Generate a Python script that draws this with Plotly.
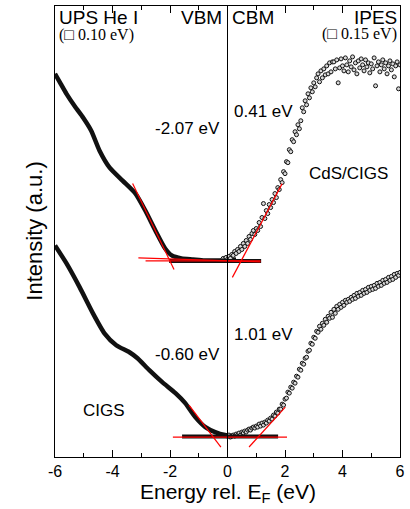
import plotly.graph_objects as go

# ---------------- data (energy in eV, intensity in arbitrary units) ----------------
# UPS He I, CdS/CIGS (upper curve)
ups_top_x = [-6.0, -5.8, -5.6, -5.3, -5.02, -4.74, -4.45, -4.1, -3.65, -3.2, -2.86,
             -2.51, -2.17, -1.94, -1.6, -1.2, -0.8, -0.4, 0.0, 0.3]
ups_top_y = [384, 374, 364, 351, 340, 327, 307, 290, 277, 264, 247,
             227, 209, 202, 199, 198, 197, 197, 197, 198]

# UPS He I, CIGS (lower curve)
ups_bot_x = [-6.0, -5.6, -5.14, -4.68, -4.28, -3.87, -3.41, -3.13, -2.72, -2.27,
             -1.81, -1.47, -1.12, -0.77, -0.43, -0.09, 0.2]
ups_bot_y = [212, 194, 170, 144, 124, 112, 105, 99, 87, 75,
             64, 54, 40, 30, 25, 22, 21]

# IPES energy grid (eV)
ipes_top_x = [-0.20, -0.15, -0.10, -0.05, 0.00, 0.05, 0.10, 0.15, 0.20, 0.25, 0.30, 0.35,
              0.40, 0.45, 0.50, 0.55, 0.60, 0.65, 0.70, 0.75, 0.80, 0.85, 0.90, 0.95,
              1.00, 1.05, 1.10, 1.15, 1.20, 1.25, 1.30, 1.35, 1.40, 1.45, 1.50, 1.55,
              1.60, 1.65, 1.70, 1.75, 1.80, 1.85, 1.90, 1.95, 2.00, 2.05, 2.10, 2.15,
              2.20, 2.25, 2.30, 2.35, 2.40, 2.45, 2.50, 2.55, 2.60, 2.65, 2.70, 2.75,
              2.80, 2.85, 2.90, 2.95, 3.00, 3.05, 3.10, 3.15, 3.20, 3.25, 3.30, 3.35,
              3.40, 3.45, 3.50, 3.55, 3.60, 3.65, 3.70, 3.75, 3.80, 3.85, 3.90, 3.95,
              4.00, 4.05, 4.10, 4.15, 4.20, 4.25, 4.30, 4.35, 4.40, 4.45, 4.50, 4.55,
              4.60, 4.65, 4.70, 4.75, 4.80, 4.85, 4.90, 4.95, 5.00, 5.05, 5.10, 5.15,
              5.20, 5.25, 5.30, 5.35, 5.40, 5.45, 5.50, 5.55, 5.60, 5.65, 5.70, 5.75,
              5.80, 5.85, 5.90, 5.95, 6.00]
ipes_top_y = [197, 199, 198, 200, 198, 201, 199, 203, 202, 206, 204, 208,
              206, 211, 208, 214, 211, 217, 214, 221, 218, 224, 227, 223,
              229, 227, 235, 231, 240, 254, 239, 247, 244, 253, 250, 258,
              255, 264, 260, 270, 268, 278, 275, 286, 284, 296, 295, 308,
              306, 318, 316, 326, 323, 333, 329, 337, 350, 346, 357, 353,
              364, 360, 370, 366, 375, 371, 380, 384, 376, 387, 380, 389,
              383, 392, 384, 395, 386, 396, 396, 389, 398, 375, 390, 399,
              392, 387, 400, 393, 386, 397, 391, 401, 388, 395, 384, 397,
              390, 399, 393, 387, 398, 391, 395, 385, 394, 389, 400, 372,
              392, 396, 386, 393, 398, 389, 395, 384, 392, 397, 388, 394,
              381, 392, 396, 369, 393]

ipes_bot_x = [0.00, 0.05, 0.10, 0.15, 0.20, 0.25, 0.30, 0.35, 0.40, 0.45, 0.50, 0.55,
              0.60, 0.65, 0.70, 0.75, 0.80, 0.85, 0.90, 0.95, 1.00, 1.05, 1.10, 1.15,
              1.20, 1.25, 1.30, 1.35, 1.40, 1.45, 1.50, 1.55, 1.60, 1.65, 1.70, 1.75,
              1.80, 1.85, 1.90, 1.95, 2.00, 2.05, 2.10, 2.15, 2.20, 2.25, 2.30, 2.35,
              2.40, 2.45, 2.50, 2.55, 2.60, 2.65, 2.70, 2.75, 2.80, 2.85, 2.90, 2.95,
              3.00, 3.05, 3.10, 3.15, 3.20, 3.25, 3.30, 3.35, 3.40, 3.45, 3.50, 3.55,
              3.60, 3.65, 3.70, 3.75, 3.80, 3.85, 3.90, 3.95, 4.00, 4.05, 4.10, 4.15,
              4.20, 4.25, 4.30, 4.35, 4.40, 4.45, 4.50, 4.55, 4.60, 4.65, 4.70, 4.75,
              4.80, 4.85, 4.90, 4.95, 5.00, 5.05, 5.10, 5.15, 5.20, 5.25, 5.30, 5.35,
              5.40, 5.45, 5.50, 5.55, 5.60, 5.65, 5.70, 5.75, 5.80, 5.85, 5.90, 5.95,
              6.00]
ipes_bot_y = [21, 22, 20, 21, 22, 21, 23, 22, 24, 22, 25, 24,
              26, 25, 27, 28, 27, 29, 30, 29, 31, 30, 33, 31,
              34, 32, 35, 34, 37, 36, 39, 38, 42, 41, 45, 44,
              48, 48, 53, 52, 58, 59, 65, 64, 70, 69, 75, 74,
              81, 80, 88, 87, 94, 93, 99, 100, 106, 107, 114, 113,
              120, 119, 126, 125, 131, 128, 134, 132, 138, 135, 141, 139,
              145, 140, 148, 144, 151, 148, 153, 150, 155, 152, 157, 155,
              158, 156, 160, 158, 162, 159, 164, 161, 165, 162, 167, 164,
              168, 165, 170, 167, 171, 168, 172, 169, 174, 171, 175, 172,
              177, 174, 178, 175, 180, 177, 181, 178, 183, 180, 184, 182,
              185]

# thick black background segments
base_top_x = [-2.03, 1.17]
base_top_y = [196.5, 196.5]
base_bot_x = [-1.58, 1.76]
base_bot_y = [20.5, 20.5]

# red linear-extrapolation lines
fit_lines = [
    ([-3.3, -1.86], [274, 188]),      # VBM edge CdS/CIGS
    ([-3.1, 1.15], [199.5, 195.5]),   # background CdS/CIGS
    ([-2.85, 1.15], [196.5, 196.5]),
    ([0.17, 1.9], [180, 274]),        # CBM edge CdS/CIGS
    ([-1.34, -0.23], [52, 10]),       # VBM edge CIGS
    ([-1.9, 2.07], [20, 20]),         # background CIGS
    ([0.75, 2.01], [10, 50]),         # CBM edge CIGS
]

x_ticks = [-6, -4, -2, 0, 2, 4, 6]
x_ticklabels = ["-6", "-4", "-2", "0", "2", "4", "6"]

SANS = "Liberation Sans, Arial, sans-serif"
SERIF = "Liberation Serif, Times New Roman, serif"

fig = go.Figure()

marker_style = dict(symbol="circle", size=4, color="#d8d8d8",
                    line=dict(color="#111111", width=1))

for xs, ys in [(ups_top_x, ups_top_y), (ups_bot_x, ups_bot_y)]:
    fig.add_trace(go.Scatter(x=xs, y=ys, mode="lines",
                             line=dict(color="#111111", width=4.5, shape="spline", smoothing=0.6),
                             showlegend=False, hoverinfo="skip"))

for xs, ys in [(ipes_top_x, ipes_top_y), (ipes_bot_x, ipes_bot_y)]:
    fig.add_trace(go.Scatter(x=xs, y=ys, mode="markers", marker=marker_style,
                             showlegend=False, hoverinfo="skip"))

for xs, ys in [(base_top_x, base_top_y), (base_bot_x, base_bot_y)]:
    fig.add_trace(go.Scatter(x=xs, y=ys, mode="lines",
                             line=dict(color="#111111", width=4),
                             showlegend=False, hoverinfo="skip"))

for xs, ys in fit_lines:
    fig.add_trace(go.Scatter(x=xs, y=ys, mode="lines",
                             line=dict(color="#ff0000", width=1.2),
                             showlegend=False, hoverinfo="skip"))

# vertical line at E_F
fig.add_shape(type="line", xref="x", yref="paper", x0=0, x1=0, y0=0, y1=1,
              line=dict(color="black", width=1))

def ann(text, x, y, xanchor, size, yref="y", font=SANS, xref="x", angle=0):
    fig.add_annotation(text=text, x=x, y=y, xref=xref, yref=yref, xanchor=xanchor,
                       yanchor="middle", showarrow=False, textangle=angle,
                       font=dict(family=font, size=size, color="black"))

def py2paper(py):
    return (457 - py) / 452

ann("UPS He I", -5.92, py2paper(17), "left", 19, yref="paper")
ann("(\u25a1 0.10 eV)", -5.92, py2paper(34), "left", 16, yref="paper", font=SERIF)
ann("VBM", -0.12, py2paper(17), "right", 19, yref="paper")
ann("CBM", 0.08, py2paper(17), "left", 19, yref="paper")
ann("IPES", 5.96, py2paper(17), "right", 19, yref="paper")
ann("(\u25a1 0.15 eV)", 5.96, py2paper(33), "right", 16, yref="paper", font=SERIF)

ann("-2.07 eV", -0.2, 329, "right", 17)
ann("0.41 eV", 0.15, 346, "left", 17)
ann("CdS/CIGS", 2.78, 284, "left", 17)
ann("-0.60 eV", -0.2, 103, "right", 17)
ann("1.01 eV", 0.15, 123, "left", 17)
ann("CIGS", -5.1, 47, "left", 17)

ann("Energy rel. E<sub>F</sub> (eV)", 0, py2paper(493), "center", 21, yref="paper")
ann("Intensity (a.u.)", (34 - 55) / 348, 0.5, "center", 22, yref="paper",
    xref="paper", angle=-90)

fig.update_layout(
    width=410, height=509,
    margin=dict(l=55, r=7, t=5, b=52),
    paper_bgcolor="white", plot_bgcolor="white",
    font=dict(family=SANS, color="black"),
    showlegend=False,
)
fig.update_xaxes(
    range=[-6, 6], tickvals=x_ticks, ticktext=x_ticklabels,
    ticks="inside", ticklen=7, tickwidth=1, tickcolor="black",
    minor=dict(ticks="inside", ticklen=4, dtick=1, tick0=0, tickcolor="black", tickwidth=1),
    showline=True, linecolor="black", linewidth=1, mirror="ticks",
    showgrid=False, zeroline=False,
    tickfont=dict(family=SANS, size=16, color="black"),
)
fig.update_yaxes(
    range=[0, 452], showticklabels=False, ticks="",
    showline=True, linecolor="black", linewidth=1, mirror=True,
    showgrid=False, zeroline=False,
)

fig.write_html("out.html",
               config={"displayModeBar": False},
               post_script="document.body.style.margin='0';document.body.style.overflow='hidden';")
